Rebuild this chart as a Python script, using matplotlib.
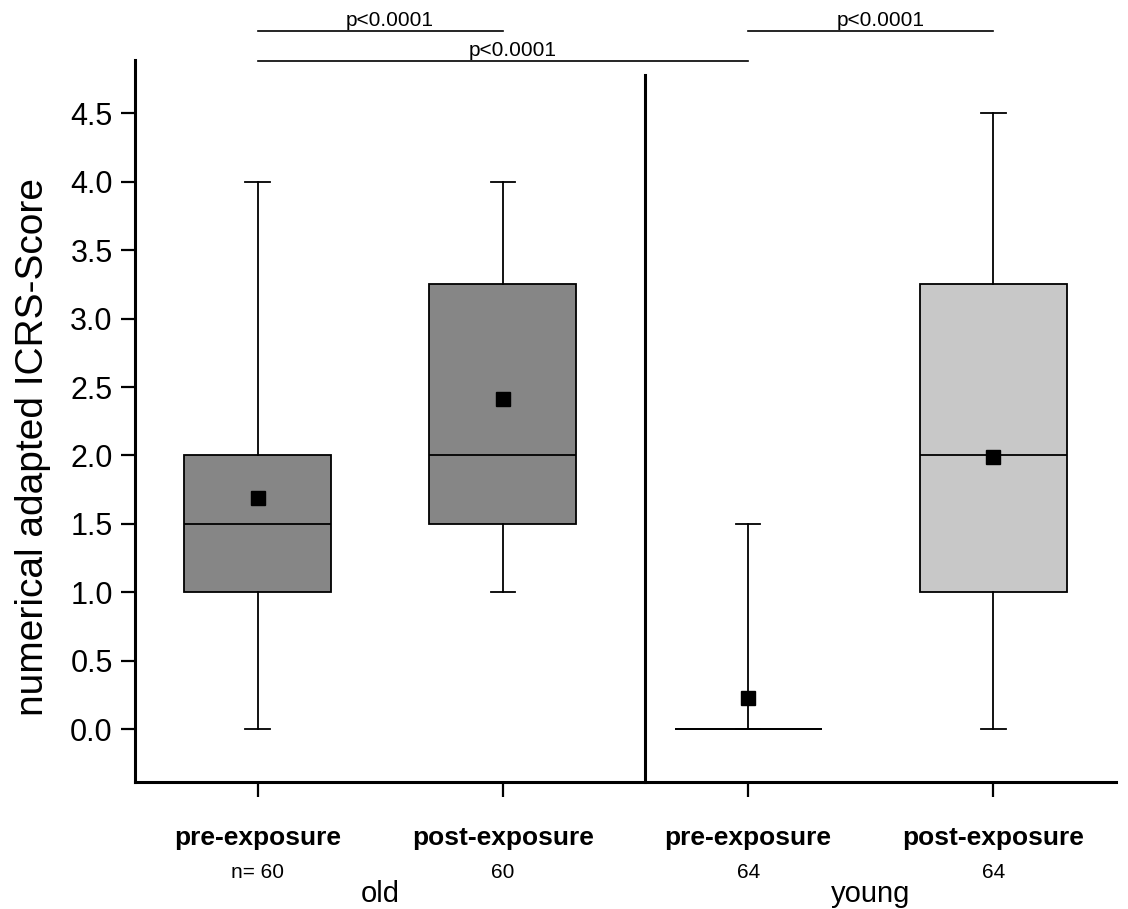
import numpy as np
import matplotlib.pyplot as plt

plt.rcParams['font.family'] = ['Liberation Sans', 'DejaVu Sans']

# datos
grupos = ['old', 'young']
etiquetas = ['pre-exposure', 'post-exposure', 'pre-exposure', 'post-exposure']
n_labels = ['n= 60', '60', '64', '64']
whis_lo = [0.0, 1.0, 0.0, 0.0]
q1 = [1.0, 1.5, 0.0, 1.0]
medianas = [1.5, 2.0, 0.0, 2.0]
q3 = [2.0, 3.25, 0.0, 3.25]
whis_hi = [4.0, 4.0, 1.5, 4.5]
medias = [1.69, 2.41, 0.23, 1.99]
colores = ['#868686', '#868686', '#c8c8c8', '#c8c8c8']

# comparaciones (caja a, caja b, texto)
comparaciones = [(1, 2, 'p<0.0001'), (1, 3, 'p<0.0001'), (3, 4, 'p<0.0001')]
alturas_comp = [5.10, 4.88, 5.10]

pos = np.arange(1, len(etiquetas) + 1)

fig = plt.figure(figsize=(11.28, 9.09), dpi=100)
ax = fig.add_axes([135/1128, 1 - 782/909, (1116 - 135)/1128, (782 - 60)/909])

stats = []
for i in range(len(etiquetas)):
    stats.append({'whislo': whis_lo[i], 'q1': q1[i], 'med': medianas[i],
                  'q3': q3[i], 'whishi': whis_hi[i], 'fliers': []})

bp = ax.bxp(stats, positions=pos, widths=0.6, patch_artist=True,
            showfliers=False, capwidths=0.1,
            boxprops=dict(linewidth=1.3, edgecolor='black'),
            whiskerprops=dict(linewidth=1.3, color='black'),
            capprops=dict(linewidth=1.3, color='black'),
            medianprops=dict(linewidth=1.3, color='black'))
for caja, c in zip(bp['boxes'], colores):
    caja.set_facecolor(c)

# medias
ax.plot(pos, medias, 's', color='black', markersize=10, zorder=5)

ax.set_xlim(0.5, 4.5)
ax.set_ylim(-0.387, 4.89)

ax.spines['top'].set_visible(False)
ax.spines['right'].set_visible(False)
ax.spines['left'].set_linewidth(2.2)
ax.spines['bottom'].set_linewidth(2.2)

ax.set_yticks(np.arange(0, 4.51, 0.5))
ax.set_yticklabels(['%.1f' % v for v in np.arange(0, 4.51, 0.5)], fontsize=22)
ax.tick_params(axis='y', length=10, width=1.6, pad=6)
ax.set_xticks(pos)
ax.set_xticklabels([])
ax.tick_params(axis='x', length=11, width=1.6)

# linea divisoria entre grupos
ax.plot([2.58, 2.58], [-0.387, 4.78], color='black', linewidth=2.2, clip_on=False)

trans = ax.get_xaxis_transform()
for p, et, n in zip(pos, etiquetas, n_labels):
    ax.text(p, -0.077, et, transform=trans, ha='center', va='center',
            fontsize=19, fontweight='bold')
    ax.text(p, -0.126, n, transform=trans, ha='center', va='center', fontsize=15)
for k, g in enumerate(grupos):
    xc = (pos[2*k] + pos[2*k + 1]) / 2
    ax.text(xc, -0.155, g, transform=trans, ha='center', va='center', fontsize=21)

# lineas de significancia
for (a, b, txt), h in zip(comparaciones, alturas_comp):
    ax.plot([a, b], [h, h], color='black', linewidth=1.2, clip_on=False)
    ax.text((a + b) / 2 + 0.04, h + 0.01, txt, ha='center', va='bottom', fontsize=15)

fig.text(33/1128, 1 - 447/909, 'numerical adapted ICRS-Score', rotation=90,
         ha='center', va='center', fontsize=28)

fig.savefig('out.png', dpi=100)
